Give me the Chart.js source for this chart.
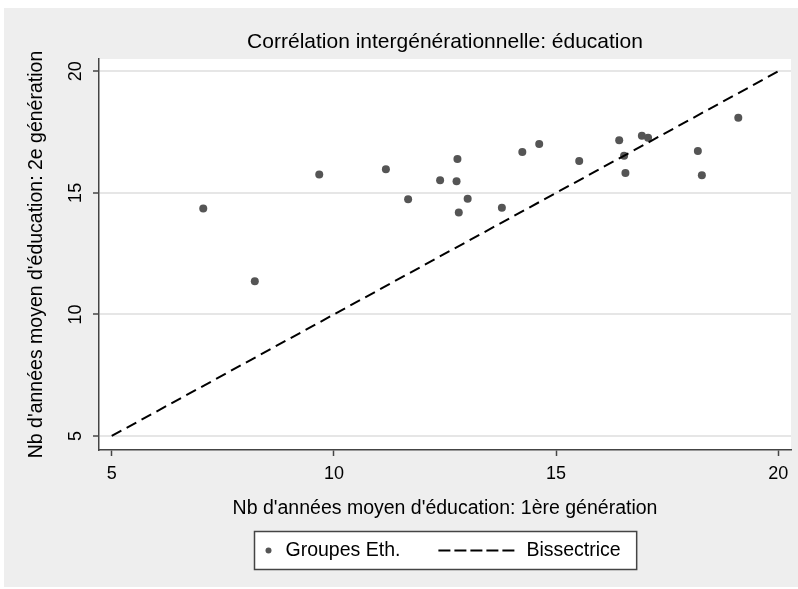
<!DOCTYPE html>
<html><head><meta charset="utf-8">
<script src="https://cdn.jsdelivr.net/npm/chart.js@4.4.1/dist/chart.umd.min.js"></script>
<style>html,body{margin:0;padding:0;background:#fff;} #wrap{width:798px;height:589px;}</style>
</head><body><div id="wrap"><canvas id="c" width="798" height="589"></canvas></div>
<script>
const titleText = "Corrélation intergénérationnelle: éducation";
const xTitle = "Nb d'années moyen d'éducation: 1ère génération";
const yTitle = "Nb d'années moyen d'éducation: 2e génération";
const seriesLabels = ["Groupes Eth.", "Bissectrice"];
const educGen1 = [7.06, 8.22, 9.67, 11.17, 11.67, 12.39, 12.78, 12.76, 13.01, 12.81, 13.78, 14.24, 14.62, 15.52, 16.42, 16.53, 16.56, 16.93, 17.07, 18.19, 18.28, 19.10];
const educGen2 = [14.36, 11.36, 15.76, 15.97, 14.74, 15.52, 16.39, 15.48, 14.76, 14.19, 14.39, 16.68, 17.01, 16.31, 17.16, 16.53, 15.82, 17.35, 17.27, 16.72, 15.72, 18.09];
const bisX = [5, 20];
const bisY = [5, 20];
const xTicks = [5, 10, 15, 20];
const yTicks = [5, 10, 15, 20];

const FONT = "'Liberation Sans', Arial, Helvetica, sans-serif";

const bgPlugin = {
  id: 'bg',
  beforeDraw(chart) {
    const ctx = chart.ctx, ca = chart.chartArea;
    ctx.save();
    ctx.fillStyle = '#ffffff';
    ctx.fillRect(0, 0, chart.width, chart.height);
    ctx.fillStyle = '#eeeeee';
    ctx.fillRect(4, 8, chart.width - 4, chart.height - 10);
    ctx.fillStyle = '#ffffff';
    ctx.fillRect(ca.left, ca.top, ca.right - ca.left, ca.bottom - ca.top);
    ctx.restore();
  }
};

const yLabelPlugin = {
  id: 'yLabels',
  afterDraw(chart) {
    const ys = chart.scales.y, ctx = chart.ctx;
    ctx.save();
    ctx.font = '18px ' + FONT;
    ctx.fillStyle = '#000';
    ctx.textAlign = 'center';
    ctx.textBaseline = 'middle';
    ys.ticks.forEach(t => {
      const py = ys.getPixelForValue(t.value);
      ctx.save();
      ctx.translate(chart.chartArea.left - 23, py);
      ctx.rotate(-Math.PI / 2);
      ctx.fillText(String(t.value), 0, 0);
      ctx.restore();
    });
    ctx.restore();
  }
};

const legendPlugin = {
  id: 'boxLegend',
  afterDraw(chart) {
    const ctx = chart.ctx, ca = chart.chartArea, ds = chart.data.datasets;
    ctx.save();
    ctx.font = '19.5px ' + FONT;
    const w1 = ctx.measureText(ds[0].label).width;
    const w2 = ctx.measureText(ds[1].label).width;
    const padL = 14, dotToText = 17, gap = 38, lineLen = 76, lineToText = 12, padR = 16;
    const boxW = padL + dotToText + w1 + gap + lineLen + lineToText + w2 + padR;
    const boxH = 38;
    const bx = Math.round((ca.left + ca.right) / 2 - boxW / 2) + 0.5;
    const by = Math.round(chart.scales.x.bottom + 6) + 0.5;
    ctx.fillStyle = '#ffffff';
    ctx.fillRect(bx, by, boxW, boxH);
    ctx.strokeStyle = '#444';
    ctx.lineWidth = 1.5;
    ctx.strokeRect(bx, by, boxW, boxH);
    const cy = by + boxH / 2;
    ctx.fillStyle = ds[0].backgroundColor;
    ctx.beginPath();
    ctx.arc(bx + padL, cy, 3, 0, Math.PI * 2);
    ctx.fill();
    ctx.fillStyle = '#000';
    ctx.textBaseline = 'middle';
    ctx.textAlign = 'left';
    const t1 = bx + padL + dotToText;
    ctx.fillText(ds[0].label, t1, cy);
    const l0 = t1 + w1 + gap;
    ctx.strokeStyle = '#000';
    ctx.lineWidth = 2;
    ctx.setLineDash([12, 4]);
    ctx.beginPath();
    ctx.moveTo(l0, cy);
    ctx.lineTo(l0 + lineLen, cy);
    ctx.stroke();
    ctx.setLineDash([]);
    ctx.fillText(ds[1].label, l0 + lineLen + lineToText, cy);
    ctx.restore();
  }
};

new Chart(document.getElementById('c'), {
  type: 'scatter',
  data: {
    datasets: [
      {
        label: seriesLabels[0],
        data: educGen1.map((v, i) => ({ x: v, y: educGen2[i] })),
        backgroundColor: '#555555',
        borderColor: '#555555',
        pointRadius: 4,
        pointBorderWidth: 0,
        order: 2
      },
      {
        label: seriesLabels[1],
        data: bisX.map((v, i) => ({ x: v, y: bisY[i] })),
        showLine: true,
        borderColor: '#000000',
        backgroundColor: '#000000',
        borderWidth: 2,
        borderDash: [11, 6],
        pointRadius: 0,
        order: 1
      }
    ]
  },
  options: {
    responsive: false,
    animation: false,
    devicePixelRatio: 1,
    layout: { padding: { top: 0, left: 0, right: 7, bottom: 64 } },
    plugins: {
      legend: { display: false },
      tooltip: { enabled: false },
      title: {
        display: true,
        text: titleText,
        fullSize: false,
        color: '#000',
        font: { family: FONT, size: 21, weight: 'normal' },
        padding: { top: 30, bottom: 3.8 }
      }
    },
    scales: {
      x: {
        type: 'linear',
        position: 'bottom',
        min: 4.714,
        max: 20.286,
        afterBuildTicks: s => { s.ticks = xTicks.map(v => ({ value: v })); },
        afterFit: s => { s.height = 75; },
        ticks: { color: '#000', font: { family: FONT, size: 18 }, padding: 7, maxRotation: 0 },
        grid: { drawOnChartArea: false, tickLength: 6, tickColor: '#444', tickWidth: 1.5 },
        border: { display: true, color: '#444', width: 1.5 },
        title: { display: true, text: xTitle, color: '#000', font: { family: FONT, size: 19.5 }, padding: { top: 0, bottom: 5 } }
      },
      y: {
        type: 'linear',
        position: 'left',
        min: 4.424,
        max: 20.506,
        afterBuildTicks: s => { s.ticks = yTicks.map(v => ({ value: v })); },
        afterFit: s => { s.width = 99; },
        ticks: { display: false },
        grid: { color: '#e6e6e6', lineWidth: 2, tickLength: 6, tickColor: '#444', tickWidth: 1.5, drawTicks: true },
        border: { display: true, color: '#444', width: 1.5 },
        title: { display: true, text: yTitle, color: '#000', font: { family: FONT, size: 19.5 }, padding: { top: 25, bottom: 0 } }
      }
    }
  },
  plugins: [bgPlugin, yLabelPlugin, legendPlugin]
});
</script>
</body></html>
